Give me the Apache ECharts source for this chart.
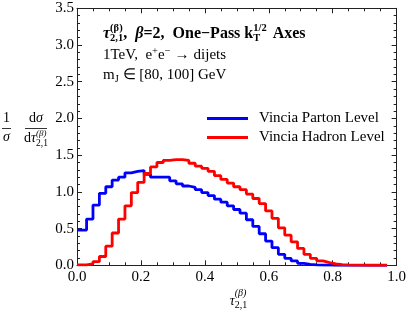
<!DOCTYPE html>
<html>
<head>
<meta charset="utf-8">
<script src="https://cdn.jsdelivr.net/npm/echarts@6/dist/echarts.min.js"></script>
<style>
html,body{margin:0;padding:0;background:#fff;}
#c{width:409px;height:314px;}
</style>
</head>
<body>
<div id="c"></div>
<script>
// Bin edges (x) of the step histograms
const binEdges = [0,0.03,0.05,0.07,0.09,0.11,0.13,0.15,0.17,0.19,0.21,0.23,0.25,0.27,0.29,0.31,0.33,0.35,0.37,0.39,0.41,0.43,0.45,0.47,0.49,0.51,0.53,0.55,0.57,0.59,0.61,0.63,0.65,0.67,0.69,0.71,0.73,0.75,0.77,0.79,0.81,0.83,0.85,0.87,0.89,0.91,0.93,0.95,0.97];
// Vincia Parton Level values per bin
const partonValues = [0.48,0.63,0.82,0.98,1.07,1.16,1.20,1.26,1.28,1.29,
  1.24,1.20,1.20,1.20,1.15,1.11,1.08,1.06,1.03,0.99,
  0.95,0.90,0.86,0.81,0.76,0.71,0.62,0.53,0.43,0.33,
  0.24,0.15,0.095,0.06,0.027,0.014,0.005,0.003,0.002,0.001,
  0,0,0,0,0,0,0,0];
// Vincia Hadron Level values per bin
const hadronValues = [0.005,0.02,0.05,0.12,0.26,0.44,0.63,0.81,0.99,1.13,
  1.25,1.34,1.40,1.43,1.44,1.44,1.43,1.39,1.35,1.32,
  1.28,1.22,1.17,1.12,1.07,1.03,0.97,0.91,0.84,0.74,
  0.64,0.51,0.41,0.32,0.23,0.15,0.095,0.06,0.036,0.018,
  0.009,0.005,0.003,0.002,0.001,0.001,0.001,0.001];
const seriesNames = ['Vincia Parton Level','Vincia Hadron Level'];
const xTicks = [0,0.2,0.4,0.6,0.8,1.0];
const yTicks = [0,0.5,1.0,1.5,2.0,2.5,3.0,3.5];

function stepData(vals){
  return binEdges.map((e,i)=>[e, vals[Math.min(i, vals.length-1)]]);
}

const FAM = '"Liberation Serif", "Times New Roman", serif';
const mctx = document.createElement('canvas').getContext('2d');
function fontStr(r){return (r.italic?'italic ':'')+(r.bold?'bold ':'')+r.size+'px '+FAM;}
function mw(r){mctx.font=fontStr(r);return mctx.measureText(r.t).width;}
const G = [];
function put(r,x,base){
  G.push({type:'text',x:x,y:base-0.32*r.size,silent:true,
    style:{text:r.t,fontFamily:FAM,fontSize:r.size,fontWeight:r.bold?'bold':'normal',
    fontStyle:r.italic?'italic':'normal',fill:'#000',align:'left',verticalAlign:'middle'}});
}
function flow(x,base,runs){
  for(const r of runs){
    if(r.stack){
      const [sup,sub]=r.stack; let w=0;
      if(sup){put(sup,x,base+sup.dy);w=Math.max(w,mw(sup));}
      if(sub){put(sub,x,base+sub.dy);w=Math.max(w,mw(sub));}
      x+=w+(r.pad||0);
    } else {
      put(r,x+(r.pre||0),base+(r.dy||0)); x+=mw(r)+(r.pre||0);
    }
  }
  return x;
}
function centered(cx,base,runs){
  let w=0;
  for(const r of runs){ if(r.stack){w+=Math.max(...r.stack.filter(Boolean).map(mw))+(r.pad||0);} else w+=mw(r)+(r.pre||0);}
  flow(cx-w/2,base,runs);
}

// Title block (3 lines)
const B=16, S=10.5, R=15;
flow(103,39,[
  {t:'τ',size:B,bold:true,italic:true},
  {stack:[{t:'(β)',size:S,bold:true,dy:-7},{t:'2,1',size:S,bold:true,dy:3}]},
  {t:',  ',size:B,bold:true},
  {t:'β',size:B,bold:true,italic:true},
  {t:'=2,  One\u2212Pass k',size:B,bold:true},
  {stack:[{t:'1/2',size:S,bold:true,dy:-7},{t:'T',size:S,bold:true,dy:3}]},
  {t:' Axes',size:B,bold:true,pre:2}
]);
flow(103,60,[
  {t:'1TeV,  e',size:R},{t:'+',size:S,dy:-5},{t:'e',size:R},{t:'\u2212',size:S,dy:-5},
  {t:'\u2192',size:R,pre:4},{t:'dijets',size:R,pre:4}
]);
flow(103,80,[
  {t:'m',size:R},{t:'J',size:S,dy:3},{t:' \u2208 [80, 100] GeV',size:R}
]);

// y-axis label: (1/σ)(dσ/dτ)
centered(6.5,123,[{t:'1',size:14}]);
centered(6.5,142,[{t:'σ',size:14,italic:true}]);
G.push({type:'line',silent:true,shape:{x1:2,y1:128.5,x2:11,y2:128.5},style:{stroke:'#000',lineWidth:0.8}});
centered(36,123,[{t:'d',size:14},{t:'σ',size:14,italic:true}]);
centered(36,143,[{t:'d',size:14},{t:'τ',size:14,italic:true},
  {stack:[{t:'(β)',size:9,italic:true,dy:-6.5},{t:'2,1',size:9.5,dy:3.5}]}]);
G.push({type:'line',silent:true,shape:{x1:25,y1:128.5,x2:47,y2:128.5},style:{stroke:'#000',lineWidth:0.8}});

// x-axis label
centered(238.5,306,[{t:'τ',size:14,italic:true},
  {stack:[{t:'(β)',size:10,italic:true,dy:-9},{t:'2,1',size:10,dy:3}]}]);

const axCommon = {
  type:'value',
  axisLine:{show:true,onZero:false,lineStyle:{color:'#222',width:1}},
  axisTick:{show:true,inside:true,length:5,lineStyle:{color:'#222',width:1}},
  minorTick:{show:true,length:3,lineStyle:{color:'#222',width:1}},
  splitLine:{show:false},
};
const labelStyle = {fontFamily:FAM,fontSize:15,color:'#000'};
const xAx = (pos,show)=>Object.assign({},axCommon,{min:xTicks[0],max:xTicks[xTicks.length-1],interval:0.2,position:pos,
  minorTick:Object.assign({},axCommon.minorTick,{splitNumber:4}),
  axisLabel:Object.assign({show:show,margin:4,formatter:v=>v.toFixed(1)},labelStyle)});
const yAx = (pos,show)=>Object.assign({},axCommon,{min:yTicks[0],max:yTicks[yTicks.length-1],interval:0.5,position:pos,
  minorTick:Object.assign({},axCommon.minorTick,{splitNumber:5}),
  axisLabel:Object.assign({show:show,margin:3,formatter:v=>v.toFixed(1)},labelStyle)});

const chart = echarts.init(document.getElementById('c'),null,{renderer:'canvas'});
chart.setOption({
  animation:false,
  backgroundColor:'#fff',
  grid:{left:77,right:9.5,top:8.3,bottom:48.7,containLabel:false},
  xAxis:[xAx('bottom',true),xAx('top',false)],
  yAxis:[yAx('left',true),yAx('right',false)],
  legend:{
    orient:'vertical',left:207,top:111,padding:0,itemWidth:41,itemHeight:3,itemGap:4,icon:'rect',
    data:seriesNames,
    textStyle:{fontFamily:FAM,fontSize:15,color:'#000',padding:[0,0,0,6]}
  },
  series:[
    {name:seriesNames[0],type:'line',step:'end',symbol:'none',data:stepData(partonValues),
     xAxisIndex:0,yAxisIndex:0,color:'#0000ff',lineStyle:{color:'#0000ff',width:2.8},z:3},
    {name:seriesNames[1],type:'line',step:'end',symbol:'none',data:stepData(hadronValues),
     xAxisIndex:0,yAxisIndex:0,color:'#ff0000',lineStyle:{color:'#ff0000',width:2.8},z:4}
  ],
  graphic:G
});
</script>
</body>
</html>
